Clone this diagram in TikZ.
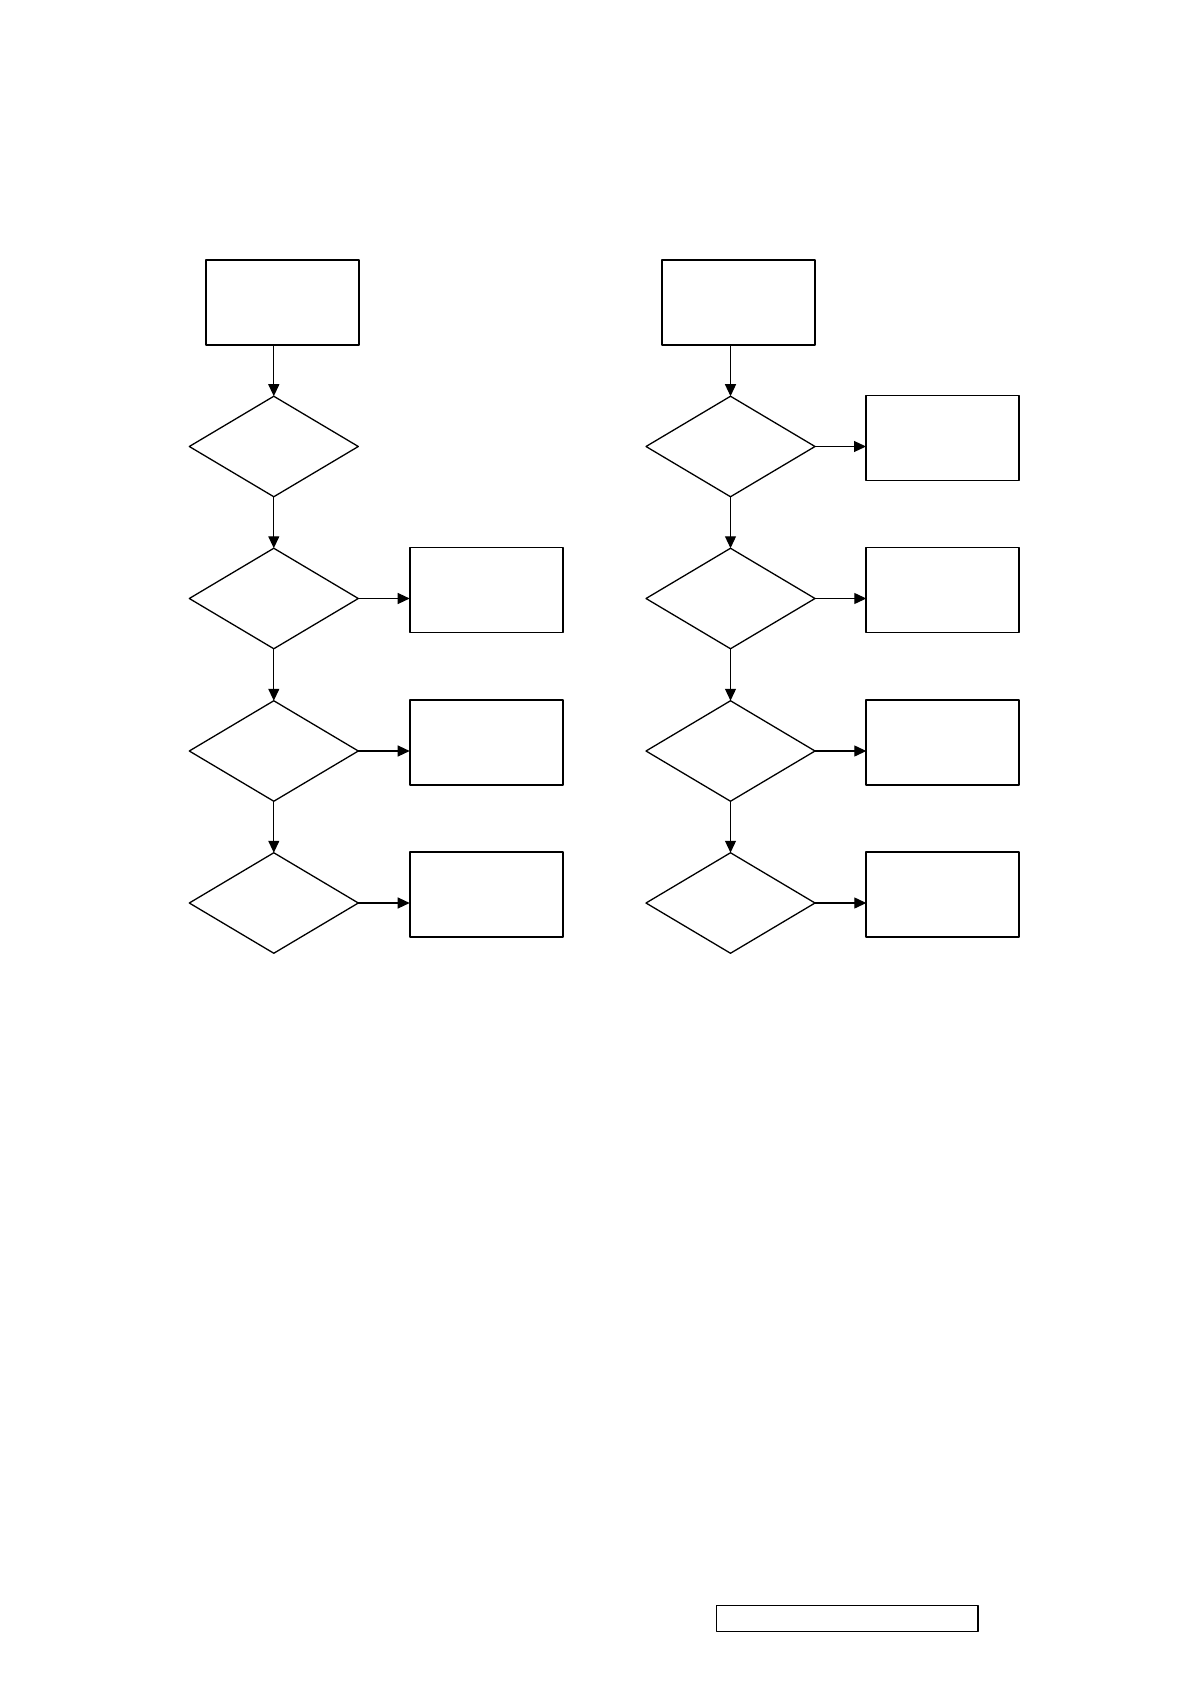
\documentclass[tikz,border=0pt]{standalone}
\usetikzlibrary{shapes.geometric,arrows.meta}
\begin{document}
\begin{tikzpicture}[x=.5pt, y=-.5pt, line join=round, >={Triangle[length=6pt,width=5.5pt]},
        box/.style={draw, rectangle, minimum width=76.5pt, minimum height=42.5pt, inner sep=0pt, outer sep=0pt, line width=.9pt},
        thinbox/.style={box, line width=.6pt},
        test/.style={draw, diamond, minimum width=84.5pt, minimum height=50.25pt, inner sep=0pt, outer sep=0pt, line width=.65pt}]
                \useasboundingbox (0,0) rectangle (1190,1684);
                % start boxes
                \node[box] (S1) at (282.2,302.7) {};
                \node[box] (S2) at (738.8,302.7) {};
                % decisions
                \foreach \i/\y in {1/446.5,2/598.5,3/751,4/903}{
                        \node[test] (A\i) at (273.8,\y) {};
                        \node[test] (B\i) at (730.5,\y) {};
                }
                % boxes on the right of each decision
                \node[thinbox] (Q1) at (942.5,437.8) {};
                \foreach \i/\y in {2/590,3/742.2,4/894.5}{
                        \node[box] (P\i) at (486.2,\y) {};
                        \node[box] (Q\i) at (942.8,\y) {};
                }
                \draw[line width=.8pt] (716.3,1605.3) rectangle (977.7,1631.3);
                % connectors
                \draw[->, line width=.6pt] (S1.south -| A1.north) -- (A1.north);
                \draw[->, line width=.6pt] (S2.south -| B1.north) -- (B1.north);
                \foreach \i/\j in {1/2,2/3,3/4}{
                        \draw[->, line width=.6pt] (A\i.south) -- (A\j.north);
                        \draw[->, line width=.6pt] (B\i.south) -- (B\j.north);
                }
                \draw[->, line width=.6pt] (B1.east) -- (B1.east -| Q1.west);
                \foreach \i in {2,3,4}{
                        \draw[->, line width=.6pt] (A\i.east) -- (A\i.east -| P\i.west);
                        \draw[->, line width=.6pt] (B\i.east) -- (B\i.east -| Q\i.west);
                }
\end{tikzpicture}
\end{document}
